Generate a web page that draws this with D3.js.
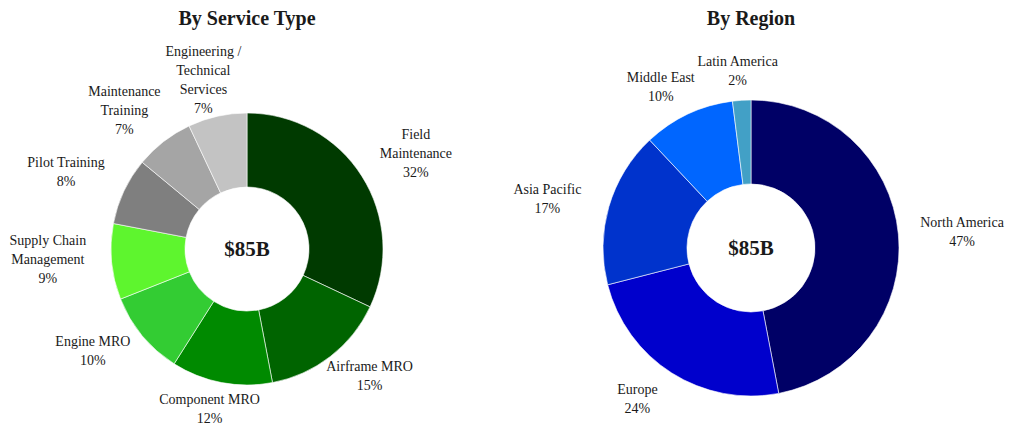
<!DOCTYPE html>
<html lang="en">
  <head>
    <meta charset="UTF-8" />
    <title>MRO Market - $85B</title>
    <script src="https://d3js.org/d3.v7.min.js"></script>
    <style>
      body { margin: 0; background: #fff; }
      svg text { font-family: "Liberation Serif", "Times New Roman", serif; fill: #1a1a1a; }
    </style>
  </head>
  <body>
    <svg id="chart" width="1019" height="425"></svg>

    <script>
      // Service type breakdown (clockwise from 12 o'clock)
      const serviceLabels = [
        ["Field", "Maintenance"],
        ["Airframe MRO"],
        ["Component MRO"],
        ["Engine MRO"],
        ["Supply Chain", "Management"],
        ["Pilot Training"],
        ["Maintenance", "Training"],
        ["Engineering /", "Technical", "Services"],
      ];
      const serviceValues = [32, 15, 12, 10, 9, 8, 7, 7];
      const serviceColors = ["#003a00", "#006400", "#008a00", "#33cc33", "#5ef52e", "#7f7f7f", "#a5a5a5", "#c3c3c3"];

      // Region breakdown
      const regionLabels = [["North America"], ["Europe"], ["Asia Pacific"], ["Middle East"], ["Latin America"]];
      const regionValues = [47, 24, 17, 10, 2];
      const regionColors = ["#000066", "#0000cc", "#0033cc", "#0066ff", "#42a0c6"];

      const totalLabel = "$85B";

      const svg = d3.select("#chart");

      function donut(cfg) {
        const g = svg.append("g").attr("transform", `translate(${cfg.cx},${cfg.cy})`);

        const pie = d3.pie().sort(null).value((d) => d.value);
        const arc = d3.arc().innerRadius(cfg.inner).outerRadius(cfg.outer);

        const data = cfg.values.map((v, i) => ({ value: v, label: cfg.labels[i], color: cfg.colors[i] }));
        const arcs = pie(data);

        g.selectAll("path")
          .data(arcs)
          .enter()
          .append("path")
          .attr("d", arc)
          .attr("fill", (d) => d.data.color)
          .attr("stroke", "#fff")
          .attr("stroke-width", 0.6);

        // labels sit on an ellipse around the ring, at each slice's mid angle
        const labelPos = (d) => {
          const a = (d.startAngle + d.endAngle) / 2;
          return [cfg.labelRx * Math.sin(a), -cfg.labelRy * Math.cos(a) + cfg.labelShift];
        };

        const lh = 19;
        const labels = g.selectAll(".lbl")
          .data(arcs)
          .enter()
          .append("text")
          .attr("class", "lbl")
          .attr("text-anchor", "middle")
          .attr("font-size", 14)
          .attr("transform", (d) => `translate(${labelPos(d)})`);

        labels.each(function (d) {
          const lines = d.data.label.concat([d.data.value + "%"]);
          const y0 = -((lines.length - 1) * lh) / 2 + 5;
          lines.forEach((t, i) => {
            d3.select(this).append("tspan").attr("x", 0).attr("y", y0 + i * lh).text(t);
          });
        });

        g.append("text")
          .attr("text-anchor", "middle")
          .attr("dy", "0.35em")
          .attr("font-size", 21)
          .attr("font-weight", "bold")
          .text(totalLabel);

        svg.append("text")
          .attr("x", cfg.cx)
          .attr("y", 25)
          .attr("text-anchor", "middle")
          .attr("font-size", 20)
          .attr("font-weight", "bold")
          .text(cfg.title);
      }

      donut({
        title: "By Service Type",
        cx: 247, cy: 249, outer: 136, inner: 62,
        labelRx: 200, labelRy: 168, labelShift: -6,
        labels: serviceLabels, values: serviceValues, colors: serviceColors,
      });

      donut({
        title: "By Region",
        cx: 751, cy: 248, outer: 148, inner: 64,
        labelRx: 212, labelRy: 178, labelShift: 0,
        labels: regionLabels, values: regionValues, colors: regionColors,
      });
    </script>
  </body>
</html>
